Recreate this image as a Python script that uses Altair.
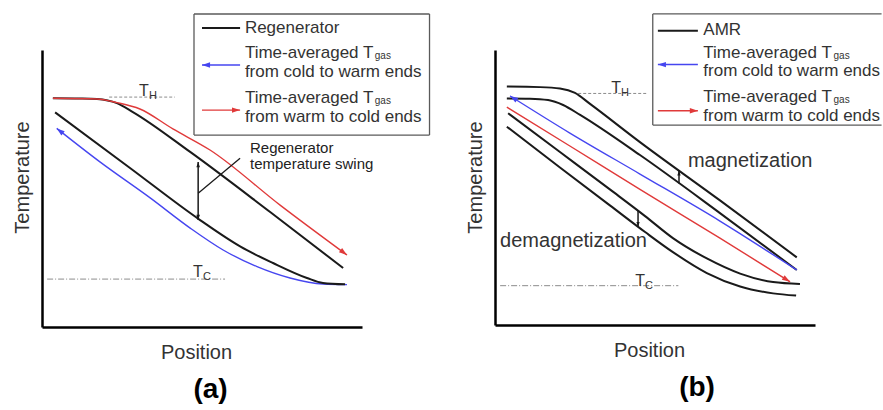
import altair as alt
import pandas as pd

# ---------------- Panel (a): passive regenerator ----------------
a_hot_x = [0.34, 1.19, 1.72, 2.34, 2.84, 4.63, 7.13, 9.41]
a_hot_y = [8.26, 8.25, 8.23, 8.08, 7.76, 6.32, 4.15, 2.13]
a_cold_x = [0.41, 2.75, 4.94, 6.19, 7.22, 8.28, 8.78, 9.47]
a_cold_y = [7.75, 5.74, 3.86, 2.91, 2.31, 1.77, 1.59, 1.54]
a_blue_x = [0.46, 1.81, 3.38, 4.63, 5.66, 6.72, 7.75, 8.78, 9.53]
a_blue_y = [7.17, 5.96, 4.66, 3.57, 2.78, 2.18, 1.77, 1.55, 1.53]
a_red_x = [0.34, 1.72, 2.34, 3.06, 4.09, 5.25, 7.44, 9.53]
a_red_y = [8.26, 8.23, 8.10, 7.87, 7.15, 6.39, 4.40, 2.60]

a_th_x, a_th_y = [2.10, 4.15], 8.30
a_tc_x, a_tc_y = [0.16, 5.72], 1.73
a_t_labels = {"T_x": [3.03, 4.72], "T_y": [8.34, 1.79], "sub": ["H", "C"],
              "sub_x": [3.34, 5.03], "sub_y": [8.23, 1.68]}

a_swing_x, a_swing_y = 4.88, [5.96, 3.86]
a_pointer = {"x": 4.88, "y": 4.83, "x2": 6.19, "y2": 6.09}
a_note_x = 6.50
a_note_y = [6.28, 5.69]
a_note_text = ["Regenerator", "temperature swing"]

a_box = {"x1": 4.75, "x2": 12.11, "y1": 6.93, "y2": 11.30}
a_leg_line_x = [5.00, 6.19]
a_leg_line_y = [10.79, 9.46, 7.83]
a_leg_text_x = 6.34
a_leg_text_y = [10.61, 9.71, 9.03, 8.09, 7.40]
a_leg_text = ["Regenerator", "Time-averaged T", "from cold to warm ends",
              "Time-averaged T", "from warm to cold ends"]
a_gas_x, a_gas_y = 10.40, [9.68, 8.05]

a_blue_head = {"x": [0.46, 5.00], "y": [7.17, 9.46], "a": [308, 270]}
a_red_head = {"x": [9.53, 6.19], "y": [2.60, 7.83], "a": [127, 90]}
a_black_head = {"x": [4.88, 4.88], "y": [5.96, 3.86], "a": [0, 180]}

# ---------------- Panel (b): active magnetic regenerator ----------------
b_c1_x = [0.37, 1.41, 2.03, 2.50, 2.97, 4.53, 7.03, 9.43]
b_c1_y = [8.67, 8.65, 8.60, 8.44, 8.04, 6.65, 4.53, 2.46]
b_c2_x = [0.37, 1.09, 1.66, 2.13, 2.66, 4.53, 7.03, 9.43]
b_c2_y = [8.24, 8.23, 8.18, 8.00, 7.64, 6.18, 4.07, 2.00]
b_c3_x = [0.41, 2.03, 3.59, 4.69, 5.56, 6.62, 7.66, 8.69, 9.53]
b_c3_y = [7.70, 6.29, 4.93, 3.96, 3.16, 2.42, 1.87, 1.56, 1.49]
b_c4_x = [0.37, 2.03, 3.59, 4.69, 5.56, 6.62, 7.66, 8.69, 9.41]
b_c4_y = [7.21, 5.73, 4.35, 3.38, 2.65, 1.89, 1.40, 1.15, 1.07]
b_blue_x = [0.47, 2.34, 4.53, 7.03, 9.43]
b_blue_y = [8.33, 6.98, 5.49, 3.78, 2.00]
b_red_x = [0.37, 2.34, 4.53, 7.03, 9.22]
b_red_y = [7.92, 6.51, 4.93, 3.16, 1.57]

b_th_x, b_th_y = [2.60, 4.74], 8.42
b_tc_x, b_tc_y = [0.16, 5.73], 1.43
b_t_labels = {"T_x": [3.63, 4.38], "T_y": [8.42, 1.42], "sub": ["H", "C"],
              "sub_x": [3.94, 4.69], "sub_y": [8.31, 1.31]}

b_mag = {"x": 5.75, "y": 5.15, "y2": 5.62}
b_demag = {"x": 4.47, "y": 4.15, "y2": 3.57}
b_note_x = [6.03, 0.16]
b_note_y = [5.76, 2.85]
b_note_text = ["magnetization", "demagnetization"]

b_box = {"x1": 4.93, "x2": 12.08, "y1": 7.27, "y2": 11.31}
b_leg_line_x = [5.09, 6.34]
b_leg_line_y = [10.70, 9.47, 7.79]
b_leg_text_x = 6.51
b_leg_text_y = [10.56, 9.71, 9.04, 8.10, 7.41]
b_leg_text = ["AMR", "Time-averaged T", "from cold to warm ends",
              "Time-averaged T", "from warm to cold ends"]
b_gas_x, b_gas_y = 10.58, [9.68, 8.07]

b_blue_head = {"x": [0.47, 5.09], "y": [8.33, 9.47], "a": [302, 270]}
b_red_head = {"x": [9.22, 6.34], "y": [1.57, 7.79], "a": [122, 90]}
b_black_head = {"x": [5.75, 4.47], "y": [5.62, 3.57], "a": [0, 180]}

# ---------------- helpers ----------------
FONT = "Liberation Sans"
ARROW = "M0,0L0.6,1.8L-0.6,1.8Z"
BLACK, BLUE, RED, GREY = "#1a1a1a", "#4646f0", "#e03a3a", "#8c8c8c"


def sc():
    return alt.Scale(domain=[0, 10], nice=False, zero=False)


def ex():
    return alt.X("x:Q", scale=sc(), axis=alt.Axis(
        title="Position", domainColor="black", domainWidth=2.5, ticks=False,
        labels=False, grid=False, titleFont=FONT, titleFontSize=20,
        titleFontWeight="normal", titleColor="#333", titlePadding=15, titleX=154))


def ey():
    return alt.Y("y:Q", scale=sc(), axis=alt.Axis(
        title="Temperature", domainColor="black", domainWidth=2.5, ticks=False,
        labels=False, grid=False, titleFont=FONT, titleFontSize=20,
        titleFontWeight="normal", titleColor="#333", titlePadding=10, titleY=127))


def curves(xs_list, ys_list, color, width):
    rows = []
    for i, (xs, ys) in enumerate(zip(xs_list, ys_list)):
        rows += [{"x": a, "y": b, "s": i} for a, b in zip(xs, ys)]
    return alt.Chart(pd.DataFrame(rows)).mark_line(
        color=color, strokeWidth=width, interpolate="monotone"
    ).encode(x=ex(), y=ey(), detail="s:N")


def segs(rows, color, width, dash=None):
    kw = dict(color=color, strokeWidth=width)
    if dash:
        kw["strokeDash"] = dash
    return alt.Chart(pd.DataFrame(rows)).mark_rule(**kw).encode(
        x=ex(), y=ey(), x2=alt.X2("x2:Q"), y2=alt.Y2("y2:Q"))


def texts(xs, ys, ts, size, color="#333", weight="normal"):
    df = pd.DataFrame({"x": xs, "y": ys, "t": ts})
    return alt.Chart(df).mark_text(
        align="left", baseline="alphabetic", font=FONT, fontSize=size,
        fontWeight=weight, color=color
    ).encode(x=ex(), y=ey(), text="t:N")


def heads(d, color, size):
    df = pd.DataFrame(d)
    return alt.Chart(df).mark_point(
        shape=ARROW, filled=True, size=size, color=color, opacity=1, strokeWidth=0
    ).encode(x=ex(), y=ey(), angle=alt.Angle("a:Q", scale=None))


def box_rules(b, closed):
    rows = [
        {"x": b["x1"], "x2": b["x2"], "y": b["y2"], "y2": b["y2"]},
        {"x": b["x1"], "x2": b["x2"], "y": b["y1"], "y2": b["y1"]},
        {"x": b["x1"], "x2": b["x1"], "y": b["y1"], "y2": b["y2"]},
    ]
    if closed:
        rows.append({"x": b["x2"], "x2": b["x2"], "y": b["y1"], "y2": b["y2"]})
    return segs(rows, "#5a5a5a", 1.3)


def hline(xs, y):
    return {"x": xs[0], "x2": xs[1], "y": y, "y2": y}


def tlabels(d):
    return [texts(d["T_x"], d["T_y"], ["T", "T"], 16),
            texts(d["sub_x"], d["sub_y"], d["sub"], 11)]


def legend(box, closed, lx, ly, tx, ty, tt, gx, gy):
    return [
        box_rules(box, closed),
        segs([hline(lx, ly[0])], BLACK, 2),
        segs([hline(lx, ly[1])], BLUE, 1.4),
        segs([hline(lx, ly[2])], RED, 1.4),
        texts([tx] * len(tt), ty, tt, 17),
        texts([gx, gx], gy, ["gas", "gas"], 10),
    ]


def title(t, dx):
    return alt.TitleParams(text=t, orient="bottom", anchor="middle", dx=dx,
                           offset=14, font=FONT, fontSize=28, fontWeight="bold",
                           color="black")


# ---------------- panel (a) ----------------
layers_a = [
    segs([hline(a_th_x, a_th_y)], GREY, 1, [3, 2]),
    segs([hline(a_tc_x, a_tc_y)], GREY, 1, [6, 2, 1, 2]),
    curves([a_blue_x], [a_blue_y], BLUE, 1.4),
    curves([a_hot_x, a_cold_x], [a_hot_y, a_cold_y], BLACK, 2),
    curves([a_red_x], [a_red_y], RED, 1.4),
    segs([{"x": a_swing_x, "x2": a_swing_x, "y": a_swing_y[0], "y2": a_swing_y[1]}], BLACK, 1.5),
    segs([a_pointer], BLACK, 1.3),
    heads(a_blue_head, BLUE, 80),
    heads(a_red_head, RED, 80),
    heads(a_black_head, BLACK, 36),
    texts([a_note_x] * 2, a_note_y, a_note_text, 15, color="#222"),
] + tlabels(a_t_labels) + legend(a_box, True, a_leg_line_x, a_leg_line_y,
                                 a_leg_text_x, a_leg_text_y, a_leg_text,
                                 a_gas_x, a_gas_y)

panel_a = alt.layer(*layers_a).properties(width=320, height=277, title=title("(a)", 8.5))

# ---------------- panel (b) ----------------
layers_b = [
    segs([hline(b_th_x, b_th_y)], GREY, 1, [3, 2]),
    segs([hline(b_tc_x, b_tc_y)], GREY, 1, [6, 2, 1, 2]),
    curves([b_c1_x, b_c2_x, b_c3_x, b_c4_x], [b_c1_y, b_c2_y, b_c3_y, b_c4_y], BLACK, 2),
    curves([b_blue_x], [b_blue_y], BLUE, 1.4),
    curves([b_red_x], [b_red_y], RED, 1.4),
    segs([{"x": b_mag["x"], "x2": b_mag["x"], "y": b_mag["y"], "y2": b_mag["y2"]},
          {"x": b_demag["x"], "x2": b_demag["x"], "y": b_demag["y"], "y2": b_demag["y2"]}],
         BLACK, 1.5),
    heads(b_blue_head, BLUE, 80),
    heads(b_red_head, RED, 80),
    heads(b_black_head, BLACK, 30),
    texts(b_note_x, b_note_y, b_note_text, 20),
] + tlabels(b_t_labels) + legend(b_box, False, b_leg_line_x, b_leg_line_y,
                                 b_leg_text_x, b_leg_text_y, b_leg_text,
                                 b_gas_x, b_gas_y)

panel_b = alt.layer(*layers_b).properties(width=320, height=275, title=title("(b)", 42))

chart = alt.hconcat(panel_a, panel_b, spacing=133, bounds="flush").properties(
    padding={"left": 12, "top": 13, "right": 0, "bottom": 0}
).configure_view(stroke=None)

chart.save("out.html", embed_options={"renderer": "svg", "actions": False})
